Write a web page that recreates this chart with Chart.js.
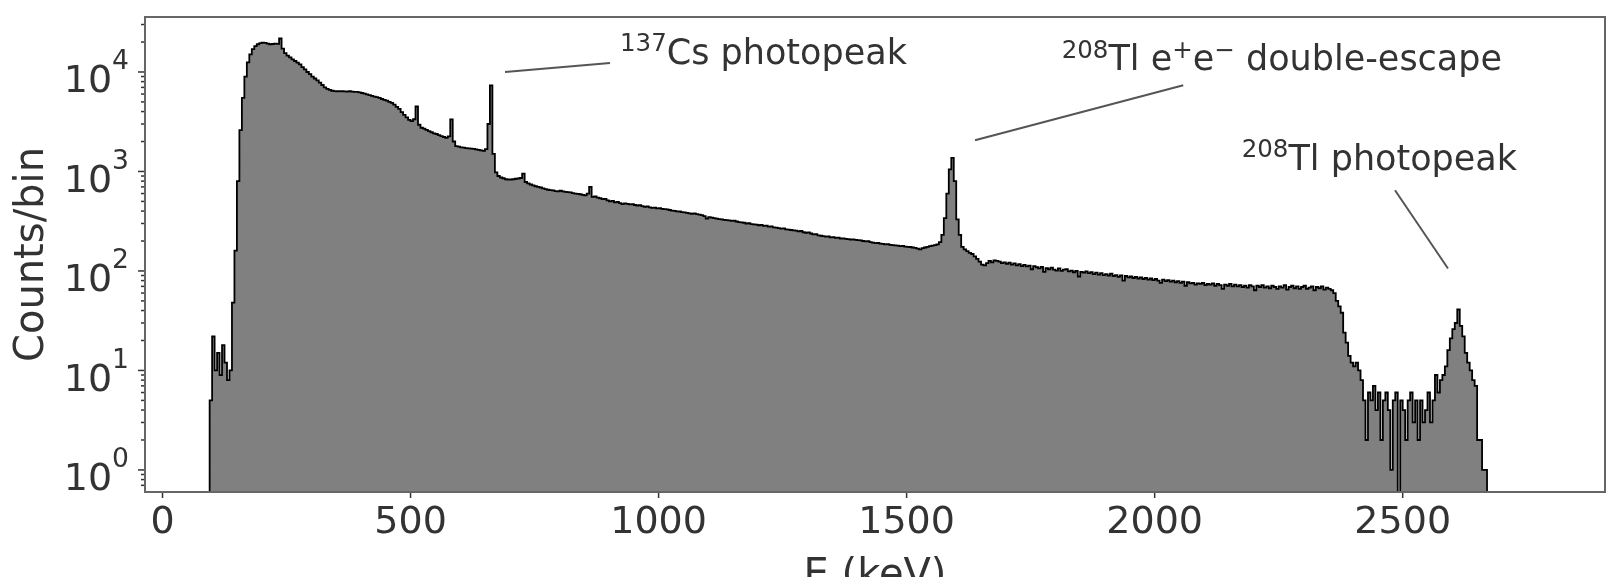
<!DOCTYPE html>
<html>
<head>
<meta charset="utf-8">
<script src="https://cdn.jsdelivr.net/npm/chart.js@4.4.1/dist/chart.umd.min.js"></script>
<style>
html,body{margin:0;padding:0;background:#fff;}
#wrap{width:1615px;height:577px;position:relative;overflow:hidden;}
canvas{display:block;}
</style>
</head>
<body>
<div id="wrap"><canvas id="c" width="1615" height="577"></canvas></div>
<script>
// ---- histogram binning (keV) ----
const BIN_START = 95;
const BIN_WIDTH = 5;

// ---- counts per 5 keV bin (rows of 100 keV) ----
const counts = [
  // 95 - 190
  5,22,10,15,9,18,12,8,10,48,160,800,2600,5500,9000,12500,15000,17000,18200,19000,
  // 195 - 290
  19500,19700,19600,19300,19000,19100,19300,19200,21700,17200,15500,14600,14000,13400,12900,12400,11900,11200,10600,10000,
  // 295 - 390
  9500,9000,8600,8250,7800,7400,7000,6750,6600,6480,6420,6400,6420,6400,6380,6350,6400,6350,6300,6300,
  // 395 - 490
  6250,6150,6050,5950,5850,5750,5650,5600,5500,5350,5250,5150,5000,4900,4700,4450,4250,3950,3700,3500,
  // 495 - 590
  3300,3200,3350,4500,2950,2750,2700,2620,2540,2480,2420,2380,2320,2270,2220,2180,2250,3330,2000,1800,
  // 595 - 690
  1780,1750,1740,1720,1705,1700,1690,1670,1650,1630,1610,1680,3000,7350,1500,980,900,870,855,835,
  // 695 - 790
  830,830,835,845,850,860,953,784,760,740,725,710,700,690,675,665,655,650,645,635,
  // 795 - 890
  631,640,630,625,620,615,605,600,595,590,582,575,600,700,555,560,545,538,528,530,
  // 895 - 990
  512,500,506,490,494,480,470,478,472,468,470,460,455,458,448,440,446,436,430,433,
  // 995 - 1090
  426,428,420,418,415,410,404,402,398,396,390,388,384,380,376,380,372,368,364,356,
  // 1095 - 1190
  335,348,344,340,336,332,330,326,324,322,318,320,314,310,308,305,300,302,296,294,
  // 1195 - 1290
  292,288,290,284,285,279,281,274,272,270,266,268,262,260,258,256,254,250,252,245,
  // 1295 - 1390
  242,244,238,233,235,228,226,224,221,222,218,219,215,216,212,213,210,209,207,208,
  // 1395 - 1490
  205,204,203,200,198,199,195,193,190,191,188,187,185,186,183,182,181,180,178,179,
  // 1495 - 1590
  176,175,174,172,171,168,165,170,172,175,178,180,182,185,195,230,340,600,1050,1370,
  // 1595 - 1690
  800,330,230,175,165,158,152,148,140,132,124,116,114,120,126,122,128,126,124,120,
  // 1695 - 1790
  122,118,121,116,119,114,117,112,115,111,113,104,112,109,106,110,98,107,104,108,
  // 1795 - 1890
  103,101,106,100,103,104,99,101,97,100,88,98,96,99,95,97,93,96,92,95,
  // 1895 - 1990
  91,93,90,94,89,91,87,90,80,89,86,88,85,87,84,86,83,85,82,84,
  // 1995 - 2090
  81,83,80,76,82,79,81,78,80,77,79,76,78,71,77,75,76,73,75,74,
  // 2095 - 2190
  76,72,74,73,75,71,74,72,66,73,71,74,70,73,70,72,69,71,68,72,
  // 2195 - 2290
  70,64,71,69,72,68,70,67,71,69,66,70,68,72,65,69,71,67,70,66,
  // 2295 - 2390
  69,71,66,68,70,64,69,67,70,65,68,66,64,60,50,44,38,24,19,14,
  // 2395 - 2490
  12,11,12,10,8,5,2,6,5,7,4,6,2,5,6,4,1,5,6,0,
  // 2495 - 2590
  5,4,2,5,6,3,5,2,5,3,4,6,3,5,9,6,8,9,11,16,
  // 2595 - 2665
  21,26,30,41,28,22,15,12,10,8,7,2,2,1,1
];

// ---- axes ----
const xTickValues = [0, 500, 1000, 1500, 2000, 2500];
const yDecadeExponents = [0, 1, 2, 3, 4];
const yTickBase = '10';
const X_MIN = -35.3, X_MAX = 2907.8;
const Y_MIN = 0.601, Y_MAX = 35700;
const xTitle = 'E (keV)';
const yTitle = 'Counts/bin';

// ---- annotations: [segments], text anchor & line (data coords) ----
const annotationSegments = [
  [['137', true], ['Cs photopeak', false]],
  [['208', true], ['Tl e', false], ['+', true], ['e', false], ['\u2212', true], [' double-escape', false]],
  [['208', true], ['Tl photopeak', false]]
];
const annotationTextAt = [[922.2, 12150], [1812.6, 10400], [2175.4, 1040]];
const annotationLineFrom = [[690.4, 10000], [1637.8, 2059], [2591.3, 106]];
const annotationLineTo = [[902.1, 12320], [2057.7, 7350], [2484.5, 647]];

// ---- build step-histogram points from bins ----
const points = [];
points.push({x: BIN_START, y: Y_MIN});
counts.forEach((c, i) => points.push({x: BIN_START + i * BIN_WIDTH, y: c > 0 ? c : Y_MIN}));
const lastEdge = BIN_START + counts.length * BIN_WIDTH;
const lastVal = counts[counts.length - 1];
points.push({x: lastEdge, y: lastVal > 0 ? lastVal : Y_MIN});
points.push({x: lastEdge, y: Y_MIN});

const FONT = '"DejaVu Sans", "Liberation Sans", sans-serif';
Chart.defaults.font.family = FONT;

function drawRich(ctx, x, y, segs, size, supRaise, align) {
  const supSize = size * 0.7;
  let total = 0;
  segs.forEach(s => { ctx.font = (s[1] ? supSize : size) + 'px ' + FONT; total += ctx.measureText(s[0]).width; });
  let cx = align === 'right' ? x - total : x;
  ctx.textAlign = 'left';
  ctx.textBaseline = 'alphabetic';
  segs.forEach(s => {
    ctx.font = (s[1] ? supSize : size) + 'px ' + FONT;
    ctx.fillText(s[0], cx, s[1] ? y - supRaise : y);
    cx += ctx.measureText(s[0]).width;
  });
}

const decor = {
  id: 'decor',
  afterDraw(chart) {
    const {ctx, chartArea: a} = chart;
    const xs = chart.scales.x, ys = chart.scales.y;
    ctx.save();
    // y ticks (major + minor)
    ctx.strokeStyle = '#333';
    ctx.lineWidth = 1.5;
    for (let k = -1; k <= 5; k++) {
      for (let m = 1; m <= 9; m++) {
        const v = m * Math.pow(10, k);
        if (v < Y_MIN || v > Y_MAX) continue;
        const py = ys.getPixelForValue(v);
        const len = m === 1 ? 7 : 4;
        ctx.beginPath(); ctx.moveTo(a.left - len, py); ctx.lineTo(a.left, py); ctx.stroke();
      }
    }
    // x ticks
    xTickValues.forEach(v => {
      const px = xs.getPixelForValue(v);
      ctx.beginPath(); ctx.moveTo(px, a.bottom); ctx.lineTo(px, a.bottom + 6); ctx.stroke();
    });
    // spines
    ctx.strokeStyle = '#666';
    ctx.lineWidth = 2;
    ctx.strokeRect(a.left, a.top, a.right - a.left, a.bottom - a.top);

    // y tick labels 10^k
    ctx.fillStyle = '#333';
    yDecadeExponents.forEach(k => {
      const py = ys.getPixelForValue(Math.pow(10, k));
      drawRich(ctx, a.left - 16, py + 20.5, [[yTickBase, false], [String(k), true]], 38, 23, 'right');
    });

    // axis titles
    ctx.font = '40px ' + FONT;
    ctx.textAlign = 'center';
    ctx.textBaseline = 'alphabetic';
    ctx.fillText(xTitle, (a.left + a.right) / 2, 587);
    ctx.save();
    ctx.translate(43, (a.top + a.bottom) / 2);
    ctx.rotate(-Math.PI / 2);
    ctx.fillText(yTitle, 0, 0);
    ctx.restore();

    // annotations
    ctx.strokeStyle = '#555';
    ctx.lineWidth = 2;
    annotationSegments.forEach((segs, i) => {
      const f = annotationLineFrom[i], t = annotationLineTo[i];
      ctx.beginPath();
      ctx.moveTo(xs.getPixelForValue(f[0]), ys.getPixelForValue(f[1]));
      ctx.lineTo(xs.getPixelForValue(t[0]), ys.getPixelForValue(t[1]));
      ctx.stroke();
      const p = annotationTextAt[i];
      drawRich(ctx, xs.getPixelForValue(p[0]), ys.getPixelForValue(p[1]), segs, 35, 12.7, 'left');
    });
    ctx.restore();
  }
};

new Chart(document.getElementById('c'), {
  type: 'line',
  data: {
    datasets: [{
      data: points,
      stepped: 'before',
      fill: 'start',
      backgroundColor: '#808080',
      borderColor: '#000000',
      borderWidth: 1.8,
      pointRadius: 0,
      pointHoverRadius: 0,
      tension: 0
    }]
  },
  options: {
    responsive: false,
    animation: false,
    devicePixelRatio: 1,
    events: [],
    layout: {autoPadding: false, padding: {left: 0, right: 10, top: 17, bottom: 0}},
    plugins: {legend: {display: false}, tooltip: {enabled: false}},
    scales: {
      x: {
        type: 'linear',
        min: X_MIN,
        max: X_MAX,
        grid: {display: false, drawTicks: true, tickLength: 6},
        border: {display: false},
        ticks: {
          font: {size: 38, family: FONT},
          color: '#333',
          padding: 2,
          maxRotation: 0,
          autoSkip: false,
          callback: v => String(v)
        },
        afterBuildTicks: s => { s.ticks = xTickValues.map(v => ({value: v})); },
        afterFit: s => { s.height = 85; }
      },
      y: {
        type: 'logarithmic',
        min: Y_MIN,
        max: Y_MAX,
        grid: {display: false},
        border: {display: false},
        ticks: {display: false},
        afterFit: s => { s.width = 145; }
      }
    }
  },
  plugins: [decor]
});
</script>
</body>
</html>
